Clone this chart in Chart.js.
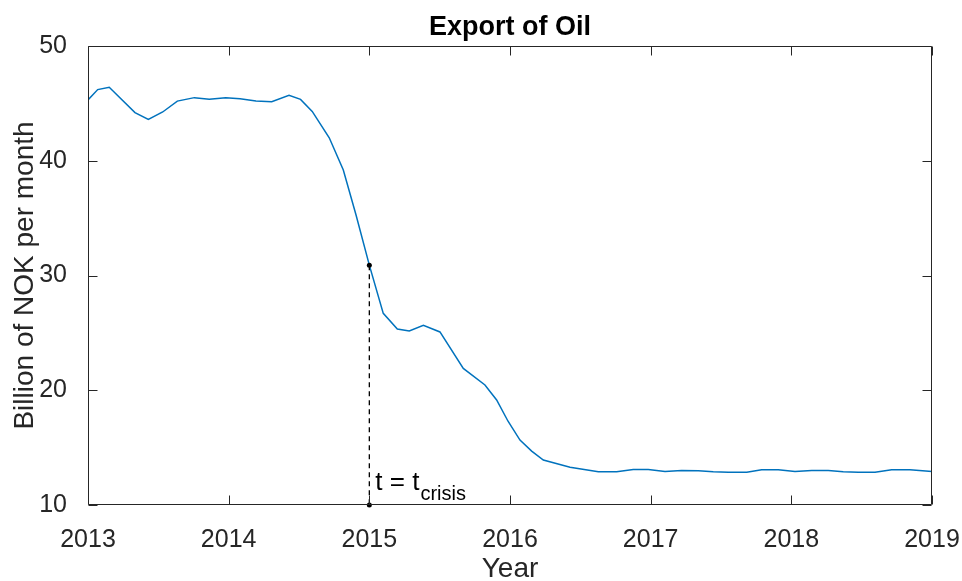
<!DOCTYPE html>
<html lang="en">
<head>
  <meta charset="UTF-8" />
  <title>Export of Oil</title>
  <script src="https://cdn.jsdelivr.net/npm/chart.js@4/dist/chart.umd.min.js"></script>
  <style>
    html, body { margin: 0; padding: 0; background: #fff; }
    #oilChart { display: block; }
  </style>
</head>
<body>
<canvas id="oilChart" width="962" height="581"></canvas>

<script>
// Oil export, billion NOK per month (x in decimal years)
const years = [
  2013.000, 2013.069, 2013.151, 2013.334, 2013.429, 2013.531, 2013.635, 2013.756,
  2013.862, 2013.979, 2014.081, 2014.194, 2014.306, 2014.429, 2014.511, 2014.594,
  2014.715, 2014.815, 2014.905, 2015.000, 2015.099, 2015.199, 2015.284, 2015.384,
  2015.502, 2015.668, 2015.822, 2015.905, 2015.986, 2016.071, 2016.154, 2016.237,
  2016.427, 2016.628, 2016.758, 2016.876, 2016.983, 2017.102, 2017.220, 2017.339,
  2017.445, 2017.552, 2017.683, 2017.789, 2017.907, 2018.026, 2018.145, 2018.263,
  2018.369, 2018.476, 2018.595, 2018.713, 2018.843, 2019.000
];
const exportNok = [
  45.3, 46.2, 46.4, 44.2, 43.6, 44.25, 45.2, 45.5,
  45.35, 45.5, 45.4, 45.2, 45.15, 45.7, 45.35, 44.3,
  42.0, 39.2, 35.3, 30.9, 26.7, 25.34, 25.16, 25.66,
  25.08, 21.9, 20.46, 19.15, 17.3, 15.66, 14.7, 13.92,
  13.29, 12.9, 12.9, 13.1, 13.1, 12.93, 13.0, 12.99,
  12.9, 12.85, 12.85, 13.08, 13.08, 12.93, 13.0, 13.0,
  12.9, 12.85, 12.85, 13.08, 13.08, 12.93
];
const crisisYear = 2015;
const crisisValue = 30.9;
const yearTicks = [2013, 2014, 2015, 2016, 2017, 2018, 2019];
const nokTicks = [10, 20, 30, 40, 50];

const AXIS = '#262626';
const FONT = '"Liberation Sans", Arial, Helvetica, sans-serif';
const TICK_LEN = 9;

// frame round the plot, ticks pointing inwards on all four sides, plus the title
const boxPlugin = {
  id: 'box',
  afterDraw(chart) {
    const { ctx, chartArea: a, scales: { x, y } } = chart;
    const L = Math.round(a.left) + 0.5, R = Math.round(a.right) - 0.5;
    const T = Math.round(a.top) + 0.5, B = Math.round(a.bottom) - 0.5;
    ctx.save();
    ctx.strokeStyle = AXIS;
    ctx.lineWidth = 1;
    ctx.beginPath();
    ctx.rect(L, T, R - L, B - T);
    x.ticks.forEach(t => {
      const px = Math.round(x.getPixelForValue(t.value)) + 0.5;
      ctx.moveTo(px, B); ctx.lineTo(px, B - TICK_LEN);
      ctx.moveTo(px, T); ctx.lineTo(px, T + TICK_LEN);
    });
    y.ticks.forEach(t => {
      const py = Math.round(y.getPixelForValue(t.value)) + 0.5;
      ctx.moveTo(L, py); ctx.lineTo(L + TICK_LEN, py);
      ctx.moveTo(R, py); ctx.lineTo(R - TICK_LEN, py);
    });
    ctx.stroke();

    ctx.fillStyle = '#000';
    ctx.font = `bold 27px ${FONT}`;
    ctx.textAlign = 'center';
    ctx.textBaseline = 'alphabetic';
    ctx.fillText('Export of Oil', (a.left + a.right) / 2, 35);
    ctx.restore();
  }
};

// "t = t_crisis" next to the foot of the dashed line
const crisisLabel = {
  id: 'crisisLabel',
  afterDatasetsDraw(chart) {
    const { ctx, scales: { x, y } } = chart;
    const px = x.getPixelForValue(crisisYear) + 6;
    const py = y.getPixelForValue(10) - 15;
    ctx.save();
    ctx.fillStyle = '#000';
    ctx.textAlign = 'left';
    ctx.textBaseline = 'alphabetic';
    ctx.font = `26px ${FONT}`;
    ctx.fillText('t = t', px, py);
    const w = ctx.measureText('t = t').width;
    ctx.font = `20px ${FONT}`;
    ctx.fillText('crisis', px + w + 1, py + 10);
    ctx.restore();
  }
};

new Chart(document.getElementById('oilChart'), {
  type: 'line',
  data: {
    datasets: [
      {
        label: 'Crisis',
        data: [{ x: crisisYear, y: crisisValue }, { x: crisisYear, y: 10 }],
        borderColor: '#000',
        borderWidth: 1.3,
        borderDash: [5, 4],
        pointRadius: 2.5,
        pointBackgroundColor: '#000',
        pointBorderWidth: 0,
        clip: false
      },
      {
        label: 'Export of oil',
        data: years.map((yr, i) => ({ x: yr, y: exportNok[i] })),
        borderColor: '#0072BD',
        borderWidth: 1.5,
        pointRadius: 0,
        tension: 0
      }
    ]
  },
  options: {
    responsive: false,
    animation: false,
    devicePixelRatio: 1,
    layout: { padding: { top: 46, right: 30, left: 0, bottom: 0 } },
    plugins: {
      legend: { display: false },
      tooltip: { enabled: false },
      title: { display: false }
    },
    scales: {
      x: {
        type: 'linear',
        min: 2013,
        max: 2019,
        afterBuildTicks: s => { s.ticks = yearTicks.map(v => ({ value: v })); },
        afterFit: s => { s.height = 76; s.paddingLeft = 0; s.paddingRight = 0; },
        grid: { display: false },
        border: { display: false },
        ticks: {
          color: AXIS,
          padding: 12,
          maxRotation: 0,
          font: { family: FONT, size: 25 },
          callback: v => String(v)
        },
        title: {
          display: true,
          text: 'Year',
          color: AXIS,
          padding: { top: 0, bottom: -2 },
          font: { family: FONT, size: 28, lineHeight: 1 }
        }
      },
      y: {
        min: 10,
        max: 50,
        afterBuildTicks: s => { s.ticks = nokTicks.map(v => ({ value: v })); },
        afterFit: s => { s.width = 88; s.paddingTop = 0; s.paddingBottom = 0; },
        grid: { display: false },
        border: { display: false },
        ticks: {
          color: AXIS,
          padding: 13,
          font: { family: FONT, size: 25 },
          callback: v => String(v)
        },
        title: {
          display: true,
          text: 'Billion of NOK per month',
          color: AXIS,
          padding: { top: 8, bottom: 0 },
          font: { family: FONT, size: 28 }
        }
      }
    }
  },
  plugins: [boxPlugin, crisisLabel]
});
</script>
</body>
</html>
